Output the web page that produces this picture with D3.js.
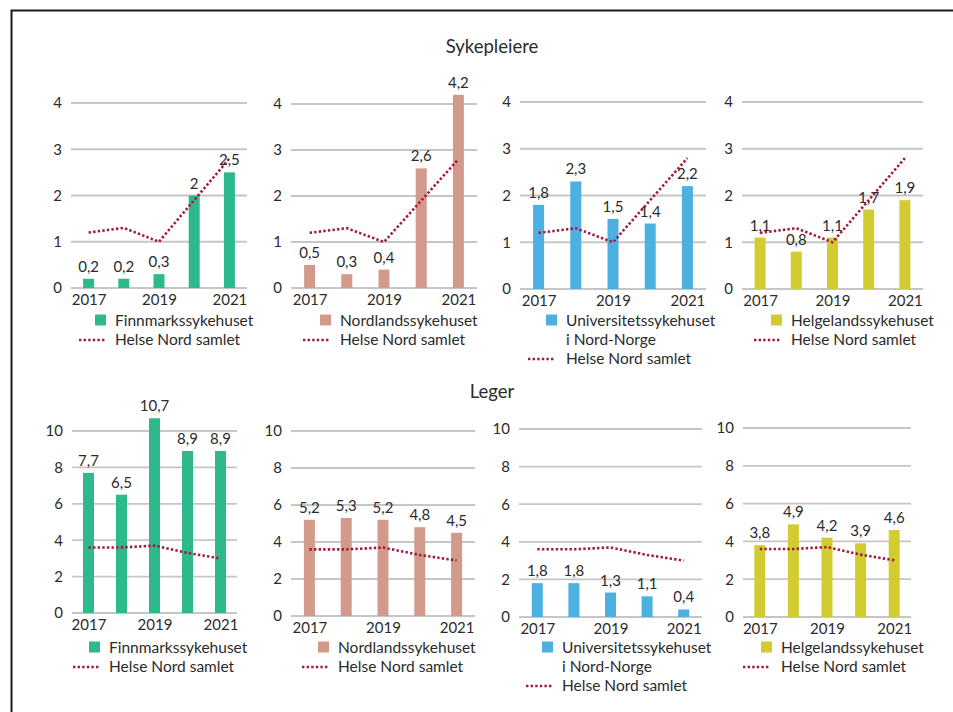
<!DOCTYPE html>
<html><head><meta charset="utf-8">
<script src="https://cdn.jsdelivr.net/npm/d3@7"></script>
<style>
body{margin:0;background:#fff}
svg{display:block}
text{font-family:Lato,"Open Sans",sans-serif;fill:#2b2b2b}
</style></head><body>
<svg id="chart" width="953" height="712"></svg>
<script>
// ---------- DATA ----------
const years = [2017, 2018, 2019, 2020, 2021];
const yearTickLabels = [2017, 2019, 2021];
const sykTicks = [0, 1, 2, 3, 4];
const legTicks = [0, 2, 4, 6, 8, 10];
const hospitals = ["Finnmarkssykehuset", "Nordlandssykehuset", "Universitetssykehuset|i Nord-Norge", "Helgelandssykehuset"];
const totalLabel = "Helse Nord samlet";
const groupTitles = ["Sykepleiere", "Leger"];

const sykFinnmark = [0.2, 0.2, 0.3, 2.0, 2.5];
const sykNordland = [0.5, 0.3, 0.4, 2.6, 4.2];
const sykUNN      = [1.8, 2.3, 1.5, 1.4, 2.2];
const sykHelgeland= [1.1, 0.8, 1.1, 1.7, 1.9];
const sykHelseNord= [1.2, 1.3, 1.0, 1.9, 2.8];

const legFinnmark = [7.7, 6.5, 10.7, 8.9, 8.9];
const legNordland = [5.2, 5.3, 5.2, 4.8, 4.5];
const legUNN      = [1.8, 1.8, 1.3, 1.1, 0.4];
const legHelgeland= [3.8, 4.9, 4.2, 3.9, 4.6];
const legHelseNord= [3.6, 3.6, 3.7, 3.3, 3.0];

// ---------- STYLE / LAYOUT ----------
const colors = ["#2db98b", "#d29a8b", "#4cb0e0", "#d2cc31"];
const lineColor = "#a5193e";
const gridColor = "#c6c6c6";
const numSize = "15px";
const legSize = "15.5px";

const svg = d3.select("#chart");

// frame
svg.append("path").attr("d", "M11.5,712 V10.5 H953").attr("fill", "none").attr("stroke", "#1a1a1a").attr("stroke-width", 2);

const fmt = v => String(v).replace(".", ",");

const rows = [
  { title: groupTitles[0], titleY: 53, series: [sykFinnmark, sykNordland, sykUNN, sykHelgeland], total: sykHelseNord,
    domain: [0, 4], ticks: sykTicks,
    panels: [
      { x0: 71, x1: 247, y0: 288, y1: 103, legX: 95, legLineX: 79, legY: 320 },
      { x0: 291, x1: 477, y0: 288, y1: 104, legX: 320, legLineX: 303, legY: 320 },
      { x0: 520, x1: 706, y0: 289, y1: 102, legX: 546, legLineX: 528, legY: 320 },
      { x0: 742, x1: 923, y0: 289, y1: 102, legX: 771, legLineX: 754, legY: 320 }
    ]},
  { title: groupTitles[1], titleY: 398, series: [legFinnmark, legNordland, legUNN, legHelgeland], total: legHelseNord,
    domain: [0, 10], ticks: legTicks,
    panels: [
      { x0: 72, x1: 237, y0: 613, y1: 431, legX: 89, legLineX: 73, legY: 647 },
      { x0: 291, x1: 475, y0: 616, y1: 431, legX: 318, legLineX: 302, legY: 647 },
      { x0: 519, x1: 702, y0: 617, y1: 429, legX: 542, legLineX: 526, legY: 647 },
      { x0: 743, x1: 911, y0: 617, y1: 428, legX: 761, legLineX: 743, legY: 647 }
    ]}
];

rows.forEach(row => {
  svg.append("text").attr("x", 492).attr("y", row.titleY).attr("text-anchor", "middle")
    .style("font-size", "18.5px").text(row.title);

  row.panels.forEach((p, i) => {
    const g = svg.append("g");
    const x = d3.scalePoint().domain(years).range([p.x0, p.x1]).padding(0.5);
    const y = d3.scaleLinear().domain(row.domain).range([p.y0, p.y1]);

    // grid
    g.selectAll(".grid").data(row.ticks).join("line")
      .attr("x1", p.x0).attr("x2", p.x1)
      .attr("y1", d => y(d)).attr("y2", d => y(d))
      .attr("stroke", gridColor).attr("stroke-width", 1.8);

    // y axis labels
    const yAxis = d3.axisLeft(y).tickValues(row.ticks).tickSize(0).tickPadding(9).tickFormat(d => d);
    const ya = g.append("g").attr("transform", `translate(${p.x0},0)`).call(yAxis);
    ya.select(".domain").remove();
    ya.selectAll("text").style("font-size", numSize).style("font-family", "Lato,'Open Sans',sans-serif").attr("fill", "#2b2b2b");

    // bars
    const data = row.series[i];
    const bw = 11;
    g.selectAll(".bar").data(data).join("rect")
      .attr("x", (d, k) => x(years[k]) - bw / 2)
      .attr("y", d => y(d))
      .attr("width", bw)
      .attr("height", d => y(0) - y(d))
      .attr("fill", colors[i]);

    // value labels
    g.selectAll(".val").data(data).join("text")
      .attr("x", (d, k) => x(years[k]))
      .attr("y", d => y(d) - 7)
      .attr("text-anchor", "middle")
      .style("font-size", numSize)
      .text(d => fmt(d));

    // total line
    const line = d3.line().x((d, k) => x(years[k])).y(d => y(d));
    g.append("path").datum(row.total).attr("d", line)
      .attr("fill", "none").attr("stroke", lineColor).attr("stroke-width", 2.6)
      .attr("stroke-dasharray", "2.4,2.2");

    // x axis labels
    const xAxis = d3.axisBottom(x).tickValues(yearTickLabels).tickSize(0).tickPadding(6);
    const xa = g.append("g").attr("transform", `translate(0,${y(0)})`).call(xAxis);
    xa.select(".domain").remove();
    xa.selectAll("text").style("font-size", numSize).style("font-family", "Lato,'Open Sans',sans-serif").attr("fill", "#2b2b2b");

    // legend
    const lines = hospitals[i].split("|");
    g.append("rect").attr("x", p.legX).attr("y", p.legY - 5.5).attr("width", 11).attr("height", 11).attr("fill", colors[i]);
    const lt = g.append("text").attr("x", p.legX + 20).attr("y", p.legY + 6).style("font-size", legSize);
    lines.forEach((l, j) => lt.append("tspan").attr("x", p.legX + 20).attr("dy", j === 0 ? 0 : 19).text(l));
    const ly = p.legY + 20 + (lines.length - 1) * 19;
    g.append("line").attr("x1", p.legLineX).attr("x2", p.legLineX + 26).attr("y1", ly).attr("y2", ly)
      .attr("stroke", lineColor).attr("stroke-width", 2.6).attr("stroke-dasharray", "2.4,2.2");
    g.append("text").attr("x", p.legX + 20).attr("y", ly + 5).style("font-size", legSize).text(totalLabel);
  });
});
</script>
</body></html>
